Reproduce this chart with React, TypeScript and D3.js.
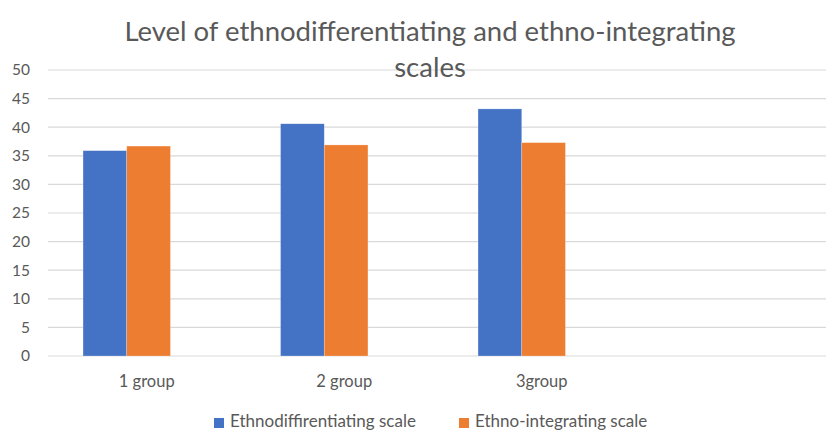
import React from 'react';
import * as d3 from 'd3';

const categories = ['1 group', '2 group', '3group', ''];
const seriesNames = ['Ethnodiffirentiating scale', 'Ethno-integrating scale'];
const ethnoDiff = [35.9, 40.6, 43.2];
const ethnoInt = [36.7, 36.9, 37.3];
const yTicks = [0, 5, 10, 15, 20, 25, 30, 35, 40, 45, 50];
const colors = ['#4472C4', '#ED7D31'];

const W = 826;
const H = 432;
const FONT = 'Lato, "Open Sans", sans-serif';

const App: React.FC = () => {
  const x = d3.scaleBand<string>().domain(categories).range([48, 838]);
  const y = d3.scaleLinear().domain([0, 50]).range([356, 70]);
  const barW = 43.7;
  const shift = -20; // bars sit left of the label centre in the source
  const series = [ethnoDiff, ethnoInt];

  return (
    <div style={{ position: 'fixed', left: 0, top: 0 }}>
      <svg width={W} height={H} style={{ display: 'block', background: '#fff' }}>
        {/* gridlines */}
        {yTicks.map(t => (
          <line key={t} x1={48} x2={W} y1={y(t)} y2={y(t)} stroke="#d9d9d9" strokeWidth={1.2} />
        ))}
        {/* y labels */}
        {yTicks.map(t => (
          <text key={'l' + t} x={30} y={y(t)} dy="0.35em" textAnchor="end"
            fontFamily={FONT} fontSize={15.5} fill="#595959">{t}</text>
        ))}
        {/* bars */}
        {series.map((vals, si) =>
          vals.map((v, i) => {
            const cx = (x(categories[i]) ?? 0) + x.bandwidth() / 2 + shift;
            return (
              <rect key={si + '-' + i}
                x={cx - barW + si * barW} y={y(v)} width={barW} height={y(0) - y(v)}
                fill={colors[si]} stroke="#fff" strokeOpacity={0.4} strokeWidth={0.6} />
            );
          })
        )}
        {/* x labels */}
        {categories.map(c => (
          <text key={'x' + c} x={(x(c) ?? 0) + x.bandwidth() / 2} y={381} dy="0.35em"
            textAnchor="middle" fontFamily={FONT} fontSize={16.5} fill="#595959">{c}</text>
        ))}
        {/* title */}
        <text x={430} y={41} textAnchor="middle" fontFamily={FONT} fontSize={27.5} fill="#595959">
          Level of ethnodifferentiating and ethno-integrating
        </text>
        <text x={430} y={77} textAnchor="middle" fontFamily={FONT} fontSize={27.5} fill="#595959">
          scales
        </text>
        {/* legend */}
        {seriesNames.map((n, i) => {
          const lx = [214, 459][i];
          return (
            <g key={n}>
              <rect x={lx} y={418} width={10} height={10} fill={colors[i]} />
              <text x={lx + 16} y={427} fontFamily={FONT} fontSize={17} fill="#595959">{n}</text>
            </g>
          );
        })}
      </svg>
    </div>
  );
};

export default App;
